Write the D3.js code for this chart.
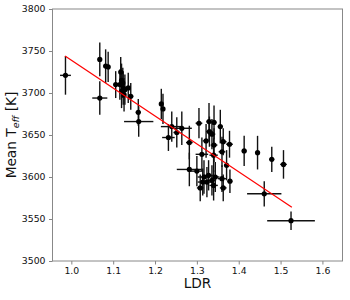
<!DOCTYPE html>
<html>
<head>
<meta charset="utf-8">
<script src="https://cdn.jsdelivr.net/npm/d3@7/dist/d3.min.js"></script>
<style>
  html, body { margin: 0; padding: 0; background: #fff; }
  svg { display: block; font-family: "DejaVu Sans", sans-serif; }
</style>
</head>
<body>
<svg id="chart" width="350" height="300"></svg>
<script>
// measured LDR values and their errors
const ldr = [
  0.986, 1.068, 1.068, 1.082, 1.088, 1.106, 1.118, 1.120, 1.116, 1.123,
  1.124, 1.120, 1.128, 1.126, 1.136, 1.142, 1.160, 1.161, 1.215, 1.219,
  1.232, 1.240, 1.252, 1.264, 1.282, 1.305, 1.329, 1.341, 1.330, 1.336,
  1.356, 1.322, 1.341, 1.363, 1.378, 1.360, 1.413, 1.445, 1.479, 1.507,
  1.312, 1.340, 1.371, 1.282, 1.300, 1.317, 1.328, 1.336, 1.344, 1.324,
  1.314, 1.360, 1.379, 1.308, 1.363, 1.340, 1.461, 1.525
];
const ldrErr = [
  0.013, 0.005, 0.018, 0.005, 0.005, 0.005, 0.004, 0.005, 0.005, 0.005,
  0.006, 0.005, 0.005, 0.005, 0.005, 0.006, 0.006, 0.035, 0.005, 0.005,
  0.015, 0.026, 0.008, 0.024, 0.008, 0.008, 0.006, 0.006, 0.008, 0.008,
  0.006, 0.008, 0.008, 0.008, 0.008, 0.008, 0.006, 0.006, 0.006, 0.008,
  0.015, 0.010, 0.006, 0.030, 0.015, 0.015, 0.012, 0.010, 0.010, 0.015,
  0.012, 0.010, 0.006, 0.008, 0.008, 0.010, 0.041, 0.057
];
// mean effective temperature and errors
const teff = [
  3721, 3740, 3694, 3732, 3731, 3710, 3725, 3715, 3710, 3712,
  3706, 3702, 3704, 3698, 3706, 3696, 3677, 3666, 3687, 3681,
  3647, 3660, 3653, 3658, 3641, 3664, 3666, 3665, 3654, 3651,
  3660, 3643, 3638, 3642, 3639, 3630, 3631, 3629, 3621, 3615,
  3627, 3626, 3614, 3609, 3607, 3600, 3602, 3596, 3600, 3594,
  3594, 3598, 3595, 3587, 3587, 3590, 3580, 3548
];
const teffErr = [
  23, 20, 20, 20, 18, 16, 18, 20, 18, 18,
  20, 20, 18, 20, 18, 16, 16, 18, 18, 18,
  16, 18, 18, 20, 20, 18, 22, 20, 18, 18,
  20, 20, 20, 16, 16, 18, 18, 20, 15, 17,
  20, 20, 18, 20, 18, 20, 18, 18, 18, 18,
  16, 16, 14, 16, 16, 18, 15, 11
];
// linear fit endpoints
const fitX = [0.985, 1.527];
const fitY = [3744, 3564];

const xTicks = [1.0, 1.1, 1.2, 1.3, 1.4, 1.5, 1.6];
const yTicks = [3500, 3550, 3600, 3650, 3700, 3750, 3800];

const MARGIN = { top: 9, right: 7.5, bottom: 39, left: 52.5 };
const W = 350, H = 300;
const innerW = W - MARGIN.left - MARGIN.right;
const innerH = H - MARGIN.top - MARGIN.bottom;

const svg = d3.select("#chart");
const g = svg.append("g").attr("transform", `translate(${MARGIN.left},${MARGIN.top})`);

const x = d3.scaleLinear([0.955, 1.648], [0, innerW]);
const y = d3.scaleLinear([3500, 3800], [innerH, 0]);

const pts = ldr.map((v, i) => ({ x: v, xe: ldrErr[i], y: teff[i], ye: teffErr[i] }));

// error bars
const bars = g.append("g").attr("stroke", "#111").attr("stroke-width", 1.4);
bars.selectAll("line.ye").data(pts).join("line").attr("class", "ye")
  .attr("x1", d => x(d.x)).attr("x2", d => x(d.x))
  .attr("y1", d => y(d.y - d.ye)).attr("y2", d => y(d.y + d.ye));
bars.selectAll("line.xe").data(pts).join("line").attr("class", "xe")
  .attr("x1", d => x(d.x - d.xe)).attr("x2", d => x(d.x + d.xe))
  .attr("y1", d => y(d.y)).attr("y2", d => y(d.y));

// points
g.append("g").selectAll("circle").data(pts).join("circle")
  .attr("cx", d => x(d.x)).attr("cy", d => y(d.y))
  .attr("r", 2.6).attr("fill", "#000");

// fit line
g.append("path")
  .datum(fitX.map((v, i) => [v, fitY[i]]))
  .attr("d", d3.line().x(d => x(d[0])).y(d => y(d[1])))
  .attr("stroke", "#ff0000").attr("stroke-width", 1.2).attr("fill", "none");

// axes
const xAxis = g.append("g").attr("transform", `translate(0,${innerH})`)
  .call(d3.axisBottom(x).tickValues(xTicks).tickFormat(d3.format(".1f")).tickSize(3.5).tickPadding(3));
const yAxis = g.append("g")
  .call(d3.axisLeft(y).tickValues(yTicks).tickFormat(d3.format("d")).tickSize(3.5).tickPadding(3.5));
[xAxis, yAxis].forEach(a => {
  a.select(".domain").remove();
  a.selectAll(".tick line").attr("stroke", "#777").attr("stroke-width", 0.9);
  a.selectAll(".tick text").attr("fill", "#111").attr("font-size", 9.3)
    .attr("font-family", "DejaVu Sans, sans-serif");
});

// frame
g.append("rect").attr("x", 0).attr("y", 0).attr("width", innerW).attr("height", innerH)
  .attr("fill", "none").attr("stroke", "#888").attr("stroke-width", 1);

// axis labels
svg.append("text")
  .attr("x", MARGIN.left + innerW / 2).attr("y", 288)
  .attr("text-anchor", "middle").attr("font-size", 13.7).attr("fill", "#111")
  .text("LDR");

const yl = svg.append("text")
  .attr("transform", `translate(15.5,${MARGIN.top + innerH / 2}) rotate(-90)`)
  .attr("text-anchor", "middle").attr("font-size", 13.7).attr("fill", "#111");
yl.append("tspan").text("Mean T");
yl.append("tspan").attr("font-size", 9.5).attr("font-style", "italic").attr("dy", 3).text("eff");
yl.append("tspan").attr("dy", -3).text(" [K]");
</script>
</body>
</html>
